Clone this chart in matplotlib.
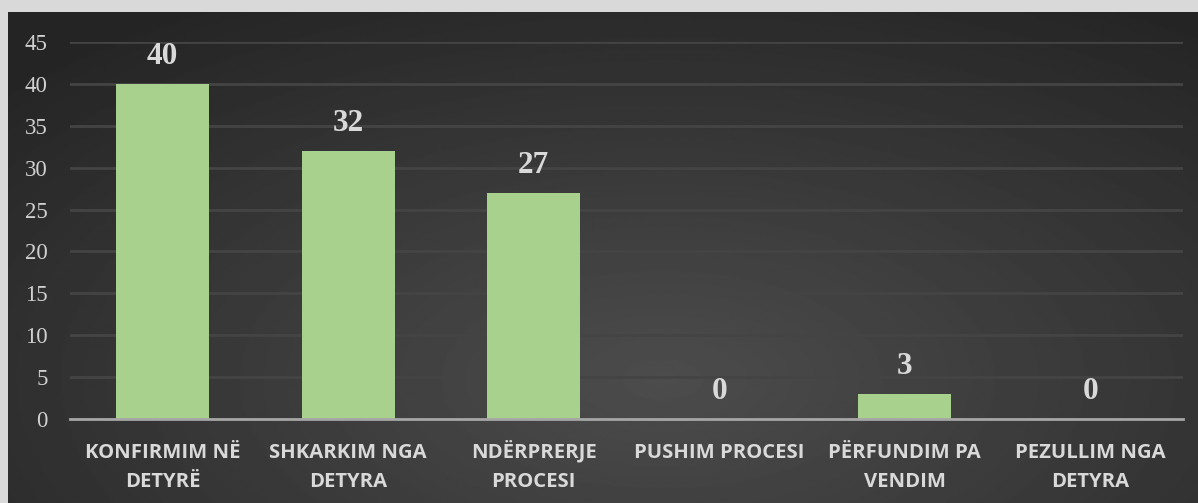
import numpy as np
import matplotlib
matplotlib.use('Agg')
import matplotlib.pyplot as plt

categories = ['KONFIRMIM NË\nDETYRË', 'SHKARKIM NGA\nDETYRA', 'NDËRPRERJE\nPROCESI',
              'PUSHIM PROCESI', 'PËRFUNDIM PA\nVENDIM', 'PEZULLIM NGA\nDETYRA']
values = [40, 32, 27, 0, 3, 0]
yticks = [0, 5, 10, 15, 20, 25, 30, 35, 40, 45]

W, H = 1198, 503
fig = plt.figure(figsize=(W / 100, H / 100), dpi=100)
fig.patch.set_facecolor('#d9d9d9')

# dark radial-gradient panel
bg = fig.add_axes([8 / W, 0, 1 - 8 / W, (H - 12) / H])
yy, xx = np.mgrid[0:1:300j, 0:1:700j]
r = np.sqrt(((xx - 0.55) / 0.75) ** 2 + ((yy - 0.75) / 0.9) ** 2)
r = np.clip(r, 0, 1)
c0, c1 = 0.30, 0.145
img = c0 + (c1 - c0) * r
bg.imshow(img, cmap='gray', vmin=0, vmax=1, aspect='auto', origin='upper',
          extent=[0, 1, 0, 1], interpolation='bilinear')
bg.axis('off')

ax = fig.add_axes([70 / W, (H - 419) / H, (1183 - 70) / W, (419 - 42) / H])
ax.set_facecolor('none')
x = np.arange(len(categories))
ax.bar(x, values, width=0.5, color='#a9d18e', zorder=3)
ax.set_xlim(-0.5, len(categories) - 0.5)
ax.set_ylim(0, 45)
ax.set_yticks(yticks)
ax.set_yticklabels([str(v) for v in yticks], fontfamily='Liberation Serif',
                   fontsize=16.5, color='#d0d0d0')
ax.set_xticks(x)
ax.set_xticklabels([])
ax.tick_params(axis='y', length=0, pad=16)
ax.tick_params(axis='x', length=0)
ax.yaxis.grid(True, color='#444444', lw=2, zorder=0)
for s in ['top', 'right', 'left']:
    ax.spines[s].set_visible(False)
ax.spines['bottom'].set_color('#a6a6a6')
ax.spines['bottom'].set_linewidth(2)
ax.spines['bottom'].set_zorder(4)

# category labels, one line at a time so the baselines line up
for xi, lab in zip(x, categories):
    for k, line in enumerate(lab.split('\n')):
        ax.annotate(line, (xi, 0), xycoords=('data', 'axes fraction'),
                    xytext=(0, -28 - 21 * k), textcoords='offset points',
                    ha='center', va='baseline', fontfamily='Open Sans',
                    fontweight='bold', fontsize=14.6, color='#d9d9d9',
                    annotation_clip=False)

for xi, v in zip(x, values):
    ax.annotate(str(v), (xi, v), xytext=(0, 20), textcoords='offset points',
                ha='center', va='center', fontfamily='Liberation Serif',
                fontweight='bold', fontsize=22.5, color='#d9d9d9')

fig.savefig('out.png', dpi=100, facecolor=fig.get_facecolor())
